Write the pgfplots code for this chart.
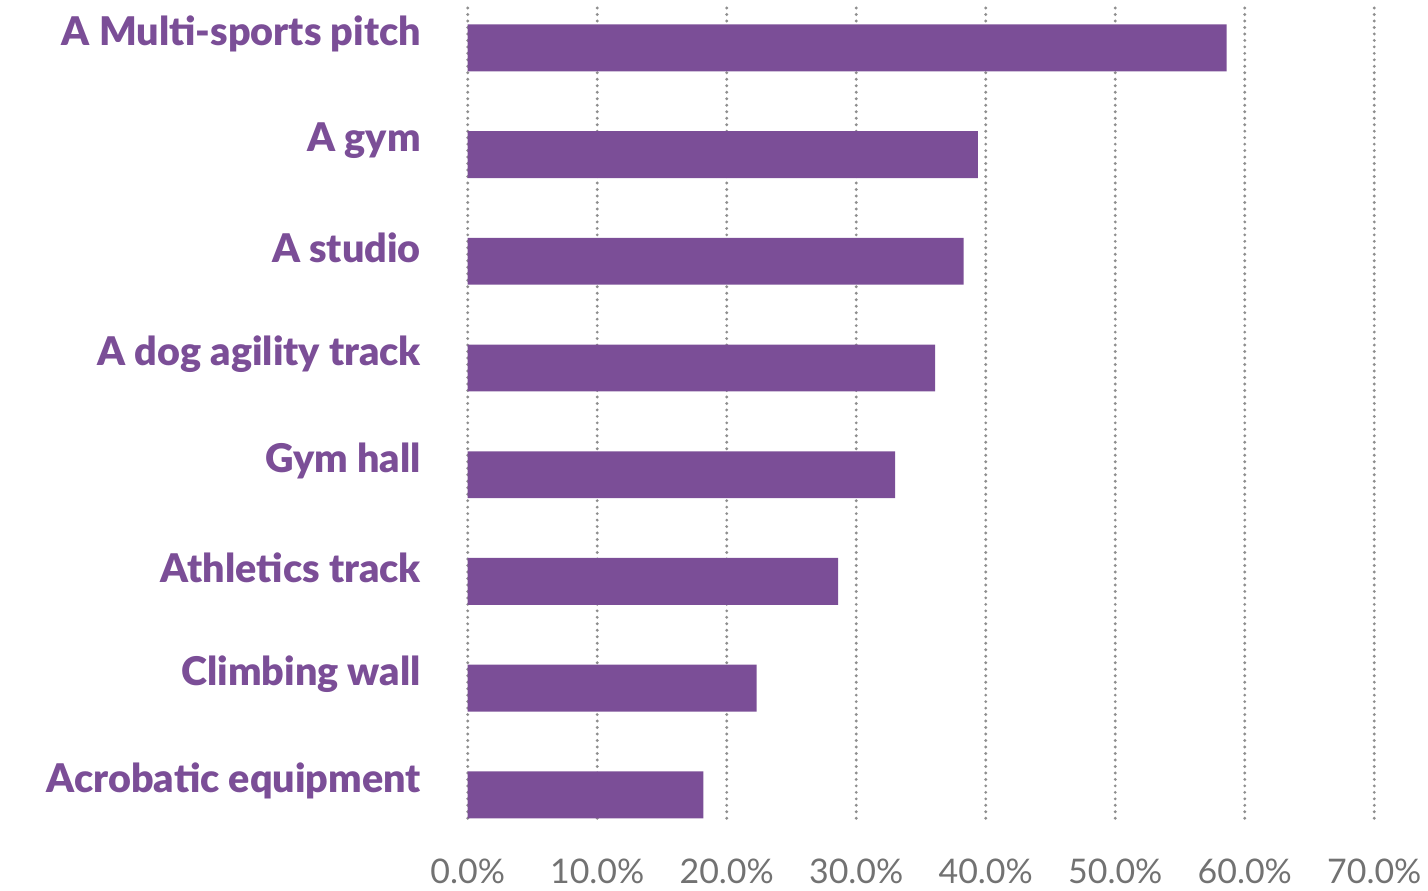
\documentclass[border=0pt]{standalone}
\usepackage{pgfplots}
\pgfplotsset{compat=1.18}
\usepackage{fontspec}
\setmainfont{Lato}
\newfontfamily\labelfont{Lato Black}
\usetikzlibrary{calc}
\definecolor{barpurple}{HTML}{7B4E97}
\definecolor{gridgray}{HTML}{8E8E8E}
\definecolor{ticktext}{HTML}{727272}
\begin{document}
\begin{tikzpicture}
\begin{axis}[
  name=ax,
  scale only axis,
  width=454.5pt, height=407pt,
  xbar, bar width=23.5pt, bar shift=0pt,
  xmin=0, xmax=70,
  ymin=-0.374, ymax=7.234,
  y dir=reverse,
  axis line style={draw=none},
  major tick length=0pt,
  xtick={0,10,20,30,40,50,60,70},
  xticklabels={0.0\%,10.0\%,20.0\%,30.0\%,40.0\%,50.0\%,60.0\%,70.0\%},
  xticklabel style={font=\fontsize{17}{18}\selectfont, text=ticktext, yshift=-16pt},
  ytick={0,1,2,3,4,5,6,7},
  yticklabels={A Multi-sports pitch, A gym, A studio, A dog agility track, Gym hall, Athletics track, Climbing wall, Acrobatic equipment},
  yticklabel style={font=\labelfont\fontsize{19.8}{21}\selectfont, text=barpurple, xshift=-20pt, yshift=7pt},
  xmajorgrids,
  major grid style={draw=gridgray, line width=1.6pt, line cap=round, dash pattern=on 0pt off 3.25pt},
  clip=false,
]
\addplot[fill=barpurple, draw=none] coordinates {
  (58.6,0) (39.4,1) (38.3,2) (36.1,3) (33.0,4) (28.6,5) (22.3,6) (18.2,7)
};
\end{axis}
\path ($(ax.south west)+(-234.5pt,-35pt)$) rectangle ($(ax.north east)+(25pt,4pt)$);
\end{tikzpicture}
\end{document}
